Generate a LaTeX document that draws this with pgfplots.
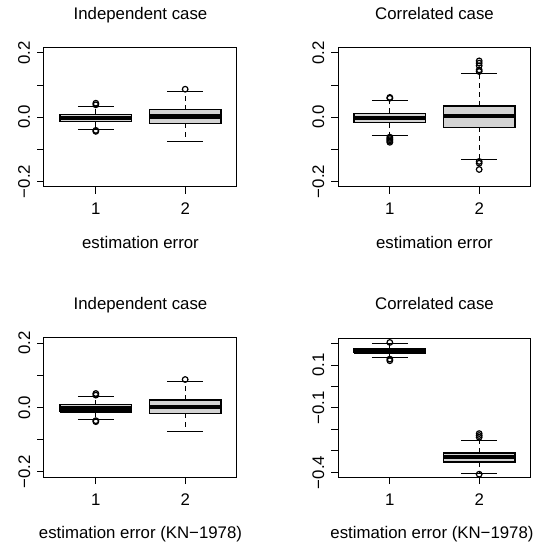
\documentclass[border=0pt]{standalone}
\usepackage{pgfplots}
\pgfplotsset{compat=1.18}
\usepackage{fontspec}
\setmainfont{Liberation Sans}
\definecolor{boxgray}{HTML}{D3D3D3}
\pgfplotsset{
  rbox/.style={
    scale only axis, width=193pt, height=139pt,
    xmin=0.42, xmax=2.58,
    xtick={1,2}, xticklabels={1,2},
    tick align=outside, tick pos=left,
    major tick length=7pt,
    axis line style={line width=1pt},
    every tick/.style={black, line width=1pt},
    tick label style={font=\fontsize{16.8}{19}\selectfont, inner sep=0pt},
    xticklabel style={anchor=base},
    xticklabel shift=21pt,
    yticklabel style={rotate=90, anchor=base},
    yticklabel shift=7pt,
    title style={font=\fontsize{16.8}{19}\selectfont, at={(0.5,1)}, anchor=base, yshift=22.3pt, inner sep=0pt},
    xlabel style={font=\fontsize{16.8}{19}\selectfont, at={(axis description cs:0.5,0)}, anchor=base, yshift=-61.5pt, inner sep=0pt},
  },
  smallrange/.style={ymin=-0.216, ymax=0.216,
    ytick={-0.2,-0.1,0,0.1,0.2}, yticklabels={−0.2,,0.0,,0.2}},
  rline/.style={black, line width=1pt, mark=none},
  rbord/.style={black, line width=1.3pt, mark=none},
  rdash/.style={black, line width=1pt, mark=none, dash pattern=on 5pt off 4pt},
  rout/.style={black, only marks, mark=o, mark size=2.8pt, mark options={solid, line width=1.2pt}},
}
% box at position 1: args lower whisker, lower quartile, median, upper quartile, upper whisker
\newcommand\rbA[5]{%
  \addplot[rdash] coordinates {(1,#2) (1,#1)};
  \addplot[rdash] coordinates {(1,#4) (1,#5)};
  \addplot[rline] coordinates {(0.8,#1) (1.2,#1)};
  \addplot[rline] coordinates {(0.8,#5) (1.2,#5)};
  \addplot[rbord, fill=boxgray] coordinates {(0.6,#2) (1.4,#2) (1.4,#4) (0.6,#4) (0.6,#2)};
  \addplot[black, mark=none, line width=4.5pt] coordinates {(0.6,#3) (1.4,#3)};
}
\newcommand\rbB[5]{%
  \addplot[rdash] coordinates {(2,#2) (2,#1)};
  \addplot[rdash] coordinates {(2,#4) (2,#5)};
  \addplot[rline] coordinates {(1.8,#1) (2.2,#1)};
  \addplot[rline] coordinates {(1.8,#5) (2.2,#5)};
  \addplot[rbord, fill=boxgray] coordinates {(1.6,#2) (2.4,#2) (2.4,#4) (1.6,#4) (1.6,#2)};
  \addplot[black, mark=none, line width=4.5pt] coordinates {(1.6,#3) (2.4,#3)};
}
\begin{document}
\begin{tikzpicture}
\useasboundingbox (0pt,0pt) rectangle (534pt,542pt);

% Panel 1
\begin{axis}[rbox, smallrange, at={(44pt,355.3pt)}, anchor=south west,
  title={Independent case}, xlabel={estimation error}]
\rbA{-0.037}{-0.0143}{-0.003}{0.0084}{0.034}
\addplot[rout] coordinates {(1,0.0435) (1,0.0385) (1,-0.041) (1,-0.044)};
\rbB{-0.075}{-0.0186}{0.002}{0.023}{0.081}
\addplot[rout] coordinates {(2,0.087)};
\end{axis}

% Panel 2
\begin{axis}[rbox, smallrange, at={(338pt,355.3pt)}, anchor=south west,
  title={Correlated case}, xlabel={estimation error}]
\rbA{-0.056}{-0.0166}{-0.002}{0.0115}{0.053}
\addplot[rout] coordinates {(1,0.0615) (1,0.059) (1,-0.062) (1,-0.066) (1,-0.070) (1,-0.074) (1,-0.078)};
\rbB{-0.131}{-0.032}{0.004}{0.035}{0.135}
\addplot[rout] coordinates {(2,0.175) (2,0.168) (2,0.160) (2,0.147) (2,0.142) (2,-0.1375) (2,-0.143) (2,-0.1625)};
\end{axis}

% Panel 3
\begin{axis}[rbox, smallrange, at={(44pt,65pt)}, anchor=south west,
  title={Independent case}, xlabel={estimation error (KN−1978)}]
\rbA{-0.037}{-0.0143}{-0.003}{0.0084}{0.034}
\addplot[rout] coordinates {(1,0.0435) (1,0.0385) (1,-0.041) (1,-0.044)};
\rbB{-0.075}{-0.0186}{0.002}{0.023}{0.081}
\addplot[rout] coordinates {(2,0.087)};
\end{axis}

% Panel 4
\begin{axis}[rbox, at={(338pt,65pt)}, anchor=south west,
  ymin=-0.421, ymax=0.2256,
  ytick={-0.4,-0.3,-0.2,-0.1,0,0.1,0.2}, yticklabels={−0.4,,,−0.1,,0.1,},
  title={Correlated case}, xlabel={estimation error (KN−1978)},
  xlabel style={xshift=-2.5pt}]
\rbA{0.1326}{0.156}{0.165}{0.174}{0.202}
\addplot[rout] coordinates {(1,0.205) (1,0.1275) (1,0.120)};
\rbB{-0.405}{-0.351}{-0.329}{-0.309}{-0.250}
\addplot[rout] coordinates {(2,-0.219) (2,-0.228) (2,-0.236) (2,-0.408)};
\end{axis}
\end{tikzpicture}
\end{document}
